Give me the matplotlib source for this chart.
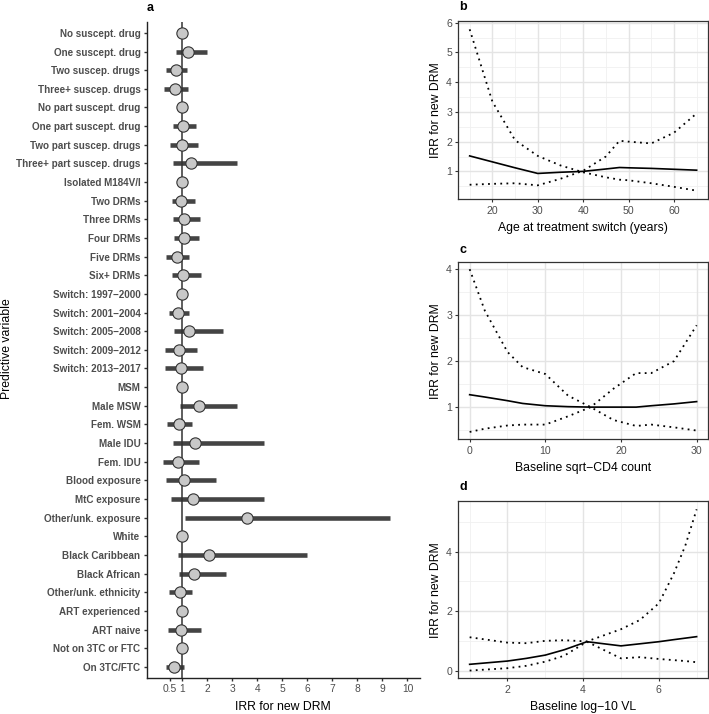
import numpy as np
import matplotlib
matplotlib.use("Agg")
import matplotlib.pyplot as plt

plt.rcParams['font.family'] = ['Liberation Sans', 'DejaVu Sans']

# painel a: taxas (IRR) com intervalos
variaveis = ["No suscept. drug", "One suscept. drug", "Two suscep. drugs", "Three+ suscep. drugs",
             "No part suscept. drug", "One part suscept. drug", "Two part suscep. drugs",
             "Three+ part suscep. drugs", "Isolated M184V/I", "Two DRMs", "Three DRMs", "Four DRMs",
             "Five DRMs", "Six+ DRMs", "Switch: 1997\u22122000", "Switch: 2001\u22122004",
             "Switch: 2005\u22122008", "Switch: 2009\u22122012", "Switch: 2013\u22122017", "MSM",
             "Male MSW", "Fem. WSM", "Male IDU", "Fem. IDU", "Blood exposure", "MtC exposure",
             "Other/unk. exposure", "White", "Black Caribbean", "Black African",
             "Other/unk. ethnicity", "ART experienced", "ART naive", "Not on 3TC or FTC", "On 3TC/FTC"]
irr = [1.0, 1.22, 0.75, 0.70, 1.0, 1.02, 1.0, 1.34, 1.0, 0.95, 1.06, 1.07, 0.78, 1.03, 1.0,
       0.84, 1.26, 0.87, 0.95, 1.0, 1.67, 0.86, 1.52, 0.84, 1.06, 1.42, 3.60, 1.0, 2.07, 1.47,
       0.90, 1.0, 0.96, 1.0, 0.67]
nan = np.nan
lo = [nan, 0.75, 0.35, 0.28, nan, 0.64, 0.52, 0.64, nan, 0.58, 0.64, 0.67, 0.35, 0.60, nan,
      0.47, 0.66, 0.31, 0.32, nan, 0.92, 0.40, 0.64, 0.24, 0.36, 0.55, 1.12, nan, 0.82, 0.87,
      0.47, nan, 0.43, nan, 0.34]
hi = [nan, 2.00, 1.20, 1.22, nan, 1.55, 1.64, 3.18, nan, 1.50, 1.72, 1.68, 1.28, 1.74, nan,
      1.28, 2.62, 1.58, 1.84, nan, 3.19, 1.39, 4.27, 1.68, 2.36, 4.26, 9.32, nan, 5.98, 2.76,
      1.40, nan, 1.76, nan, 1.08]
xticks_a = [0.5, 1, 2, 3, 4, 5, 6, 7, 8, 9, 10]

# painel b: idade
idade = [15, 20, 25, 30, 35, 40, 45, 48, 50, 55, 60, 65]
b_est = [1.52, 1.32, 1.12, 0.93, 0.97, 1.0, 1.08, 1.13, 1.12, 1.10, 1.07, 1.04]
b_sup = [5.78, 3.35, 2.05, 1.52, 1.20, 0.97, 0.80, 0.72, 0.70, 0.60, 0.48, 0.35]
b_inf = [0.55, 0.58, 0.60, 0.53, 0.75, 1.02, 1.50, 2.03, 2.00, 1.94, 2.30, 2.95]

# painel c: sqrt-CD4
cd4 = [0, 2, 5, 7, 10, 13, 16, 19, 22, 24, 27, 30]
c_est = [1.27, 1.22, 1.14, 1.08, 1.03, 1.01, 1.0, 1.0, 1.0, 1.03, 1.07, 1.12]
c_sup = [4.0, 3.1, 2.2, 1.87, 1.72, 1.25, 1.0, 0.72, 0.59, 0.62, 0.56, 0.49]
c_inf = [0.46, 0.53, 0.6, 0.62, 0.62, 0.8, 1.0, 1.4, 1.74, 1.74, 2.0, 2.78]

# painel d: log10 VL
vl = [1, 2, 2.5, 3, 3.5, 4.1, 5, 5.5, 6, 6.4, 6.7, 7]
d_est = [0.21, 0.32, 0.41, 0.52, 0.70, 0.97, 0.83, 0.9, 0.97, 1.04, 1.09, 1.14]
d_sup = [1.12, 0.94, 0.92, 1.0, 1.02, 0.98, 1.39, 1.7, 2.26, 3.27, 4.2, 5.42]
d_inf = [0.0, 0.08, 0.16, 0.3, 0.5, 0.97, 0.41, 0.45, 0.39, 0.35, 0.32, 0.28]

W, H = 709, 714
fig = plt.figure(figsize=(W/100, H/100), dpi=100)

def eixo(l, t, r, b):
    return fig.add_axes([l/W, 1 - b/H, (r - l)/W, (b - t)/H])

cinza = "#4d4d4d"

# ---- painel a
ax = eixo(146.7, 21.7, 420, 678)
y = np.arange(len(variaveis))
ax.hlines(y, lo, hi, color="#444444", lw=3.3, zorder=2)
ax.axvline(1, color="#333333", lw=1.1, zorder=3)
ax.scatter(irr, y, s=66, facecolor="#c8c8c8", edgecolor="#333333", linewidth=0.8, zorder=4)
ax.set_ylim(len(variaveis) - 0.4, -0.6)
ax.set_xlim(-0.42, 10.5)
ax.set_yticks(y)
ax.set_yticklabels(variaveis, fontsize=7.1, fontweight="bold", color=cinza)
ax.set_xticks(xticks_a)
ax.set_xticklabels([str(v) for v in xticks_a], fontsize=7.4, color=cinza)
ax.tick_params(length=2.5, width=1, color="#333333", pad=2)
for s in ["top", "right"]:
    ax.spines[s].set_visible(False)
for s in ["left", "bottom"]:
    ax.spines[s].set_linewidth(1)
    ax.spines[s].set_color("#222222")
ax.set_xlabel("IRR for new DRM", fontsize=8.8, labelpad=5)
# rótulo do eixo y fica por cima dos nomes longos, como no original
fig.text(7.5/W, 1 - 349/H, "Predictive variable", fontsize=8.8, rotation=90,
         ha="center", va="center")
fig.text(150/W, 1 - 8/H, "a", fontsize=9, fontweight="bold", ha="center", va="center")

# ---- paineis b, c, d
def painel(caixa, x, est, sup, inf, xlim, ylim, xmaj, xmin, ymaj, ymin, xlab, letra, ly):
    a = eixo(*caixa)
    for v in xmin:
        a.axvline(v, color="#f0f0f0", lw=0.6, zorder=0)
    for v in ymin:
        a.axhline(v, color="#f0f0f0", lw=0.6, zorder=0)
    for v in xmaj:
        a.axvline(v, color="#e4e4e4", lw=1.0, zorder=0)
    for v in ymaj:
        a.axhline(v, color="#e4e4e4", lw=1.0, zorder=0)
    a.plot(x, est, color="black", lw=1.2, zorder=3)
    a.plot(x, sup, color="black", lw=1.3, ls=(0, (1, 2.4)), zorder=3)
    a.plot(x, inf, color="black", lw=1.3, ls=(0, (1, 2.4)), zorder=3)
    a.set_xlim(*xlim)
    a.set_ylim(*ylim)
    a.set_xticks(xmaj)
    a.set_yticks(ymaj)
    a.tick_params(labelsize=7.6, labelcolor=cinza, length=2.5, color="#333333", pad=2)
    for s in a.spines.values():
        s.set_color("#333333")
        s.set_linewidth(0.9)
    a.set_xlabel(xlab, fontsize=8.8, labelpad=5)
    a.set_ylabel("IRR for new DRM", fontsize=8.8, labelpad=3)
    fig.text(463/W, 1 - ly/H, letra, fontsize=9, fontweight="bold", ha="center", va="center")
    return a

painel((458.3, 20.7, 708, 199.3), idade, b_est, b_sup, b_inf, (12.5, 67.5), (0.06, 6.07),
       [20, 30, 40, 50, 60], [15, 25, 35, 45, 55, 65], [1, 2, 3, 4, 5, 6],
       [0.5, 1.5, 2.5, 3.5, 4.5, 5.5], "Age at treatment switch (years)", "b", 7.5)
painel((458.3, 262.3, 708, 439.3), cd4, c_est, c_sup, c_inf, (-1.5, 31.5), (0.3, 4.15),
       [0, 10, 20, 30], [5, 15, 25], [1, 2, 3, 4], [0.5, 1.5, 2.5, 3.5],
       "Baseline sqrt\u2212CD4 count", "c", 250)
painel((458.3, 501, 708, 678.3), vl, d_est, d_sup, d_inf, (0.7, 7.3), (-0.26, 5.7),
       [2, 4, 6], [1, 3, 5, 7], [0, 2, 4], [1, 3, 5],
       "Baseline log\u221210 VL", "d", 487)

fig.savefig("out.png", dpi=100)
